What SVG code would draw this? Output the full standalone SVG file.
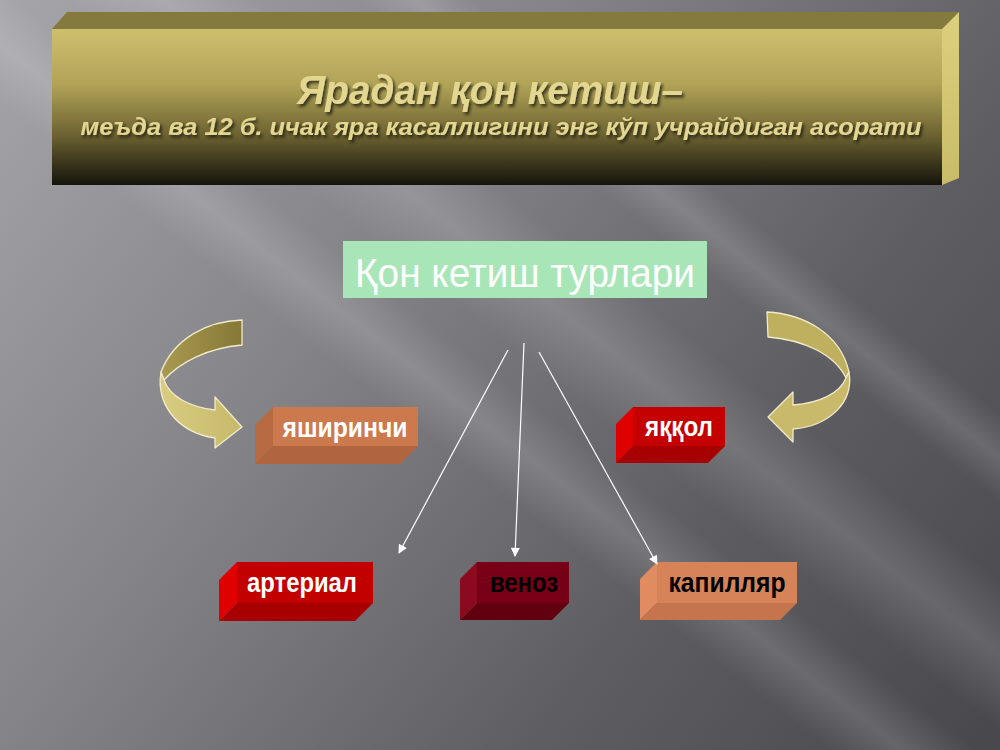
<svg xmlns="http://www.w3.org/2000/svg" width="1000" height="750" viewBox="0 0 1000 750">
  <defs>
    <linearGradient id="bg" x1="0" y1="0" x2="1000" y2="750" gradientUnits="userSpaceOnUse">
      <stop offset="0" stop-color="#a6a6aa"/>
      <stop offset="0.35" stop-color="#858589"/>
      <stop offset="0.7" stop-color="#5e5e62"/>
      <stop offset="1" stop-color="#48484c"/>
    </linearGradient>
    <linearGradient id="streak" x1="0" y1="0" x2="0" y2="1">
      <stop offset="0" stop-color="#ffffff" stop-opacity="0"/>
      <stop offset="0.5" stop-color="#ffffff" stop-opacity="0.14"/>
      <stop offset="1" stop-color="#ffffff" stop-opacity="0"/>
    </linearGradient>
    <linearGradient id="front" x1="0" y1="0" x2="0" y2="1">
      <stop offset="0" stop-color="#cdbf6e"/>
      <stop offset="0.35" stop-color="#b2a457"/>
      <stop offset="0.68" stop-color="#6c6231"/>
      <stop offset="1" stop-color="#15140c"/>
    </linearGradient>
    <linearGradient id="side" x1="0" y1="0" x2="0" y2="1">
      <stop offset="0" stop-color="#dcd07e"/>
      <stop offset="1" stop-color="#c8bc68"/>
    </linearGradient>
    <linearGradient id="arrUp" x1="1" y1="0" x2="0" y2="0">
      <stop offset="0" stop-color="#857838"/>
      <stop offset="1" stop-color="#a89a50"/>
    </linearGradient>
    <linearGradient id="arrLow" x1="0" y1="0" x2="1" y2="0">
      <stop offset="0" stop-color="#d8cc80"/>
      <stop offset="1" stop-color="#c6b96a"/>
    </linearGradient>
    <filter id="sh" x="-5%" y="-20%" width="110%" height="150%">
      <feDropShadow dx="2" dy="2.5" stdDeviation="1.5" flood-color="#1a1708" flood-opacity="0.8"/>
    </filter>
    <marker id="ah" viewBox="0 0 10 10" refX="9" refY="5" markerWidth="10" markerHeight="9" markerUnits="userSpaceOnUse" orient="auto">
      <path d="M0,0 L10,5 L0,10 Z" fill="#ffffff"/>
    </marker>
    <style>
      .title { font-family: "Liberation Sans", Arial, sans-serif; font-weight: bold; font-style: italic; fill: #e2d690; }
      .lbl { font-family: "Liberation Sans", Arial, sans-serif; font-weight: bold; font-size: 27px; text-anchor: middle; }
      .w { fill: #ffffff; }
      .k { fill: #000000; }
      .conn { stroke: #ffffff; stroke-width: 1.2; fill: none; marker-end: url(#ah); }
      .arr { stroke: #f2eacb; stroke-width: 1.3; stroke-linejoin: round; }
    </style>
  </defs>

  <!-- background -->
  <rect x="0" y="0" width="1000" height="750" fill="url(#bg)"/>
  <g transform="rotate(38 400 300)">
    <rect x="-200" y="150" width="1400" height="120" fill="url(#streak)"/>
    <rect x="-200" y="300" width="1400" height="90" fill="url(#streak)"/>
    <rect x="-200" y="20" width="1400" height="70" fill="url(#streak)"/>
  </g>

  <!-- title block -->
  <g id="title">
    <polygon points="52,29 67,12 959,12 942,29" fill="#857a3e"/>
    <polygon points="942,29 959,12 959,178 942,185" fill="url(#side)"/>
    <rect x="52" y="29" width="890" height="156" fill="url(#front)"/>
    <text class="title" x="490" y="104" font-size="41" text-anchor="middle" textLength="386" lengthAdjust="spacingAndGlyphs" filter="url(#sh)">Ярадан қон кетиш–</text>
    <text class="title" x="501" y="135" font-size="24" text-anchor="middle" textLength="841" lengthAdjust="spacingAndGlyphs" filter="url(#sh)">меъда ва 12 б. ичак яра касаллигини энг кўп учрайдиган асорати</text>
  </g>

  <!-- central node -->
  <g id="types">
    <rect x="343" y="241" width="364" height="57" fill="#a8e6b8"/>
    <text x="525" y="287" font-family="'Liberation Sans', Arial, sans-serif" font-size="41" fill="#ffffff" text-anchor="middle" textLength="340" lengthAdjust="spacingAndGlyphs">Қон кетиш турлари</text>
  </g>

  <!-- curved arrows -->
  <g id="curve-left">
    <path class="arr" d="M242,320 C208,321 174,338 161,372 L164,380 C180,362 208,348 242,345 Z" fill="url(#arrUp)"/>
    <path class="arr" d="M161,372 C156,402 175,432 215,438 L215,448 L242,427 L215,397 L215,410 C190,407 170,397 164,380 Z" fill="url(#arrLow)"/>
  </g>
  <g id="curve-right">
    <path class="arr" d="M767,312 C802,314 840,332 849,372 L846,378 C835,355 805,340 768,337 Z" fill="#bfb060"/>
    <path class="arr" d="M849,372 C854,402 830,426 793,429 L793,442 L768,417 L793,392 L793,405 C820,403 840,393 846,378 Z" fill="#c8ba6a"/>
  </g>

  <!-- boxes -->
  <g id="node-yashirinchi">
    <polygon points="255,425 273,407 273,446 255,464" fill="#b86b43"/>
    <polygon points="255,464 273,446 418,446 400,464" fill="#b1653e"/>
    <rect x="273" y="407" width="145" height="39" fill="#cc794d"/>
    <text class="lbl w" x="345" y="437" textLength="125" lengthAdjust="spacingAndGlyphs">яширинчи</text>
  </g>
  <g id="node-yaqqol">
    <polygon points="616,424 633,407 633,446 616,463" fill="#de0000"/>
    <polygon points="616,463 633,446 725,446 708,463" fill="#a60000"/>
    <rect x="633" y="407" width="92" height="39" fill="#c50000"/>
    <text class="lbl w" x="679" y="436" textLength="68" lengthAdjust="spacingAndGlyphs">яққол</text>
  </g>
  <g id="node-arterial">
    <polygon points="219,580 237,562 237,603 219,621" fill="#e00000"/>
    <polygon points="219,621 237,603 373,603 355,621" fill="#a80000"/>
    <rect x="237" y="562" width="136" height="41" fill="#c20000"/>
    <text class="lbl w" x="302" y="592" textLength="110" lengthAdjust="spacingAndGlyphs">артериал</text>
  </g>
  <g id="node-venoz">
    <polygon points="460,579 477,562 477,603 460,620" fill="#8c0a20"/>
    <polygon points="460,620 477,603 569,603 552,620" fill="#620010"/>
    <rect x="477" y="562" width="92" height="41" fill="#780016"/>
    <text class="lbl k" x="524" y="592" textLength="68" lengthAdjust="spacingAndGlyphs">веноз</text>
  </g>
  <g id="node-kapillyar">
    <polygon points="640,579 657,562 657,603 640,620" fill="#e08c60"/>
    <polygon points="640,620 657,603 797,603 780,620" fill="#c6744d"/>
    <rect x="657" y="562" width="140" height="41" fill="#d7835a"/>
    <text class="lbl k" x="727" y="592" textLength="117" lengthAdjust="spacingAndGlyphs">капилляр</text>
  </g>

  <!-- connectors -->
  <g id="connectors">
    <line class="conn" x1="508" y1="350" x2="399" y2="553"/>
    <line class="conn" x1="524" y1="343" x2="515" y2="556"/>
    <line class="conn" x1="539" y1="352" x2="657" y2="564"/>
  </g>
</svg>
